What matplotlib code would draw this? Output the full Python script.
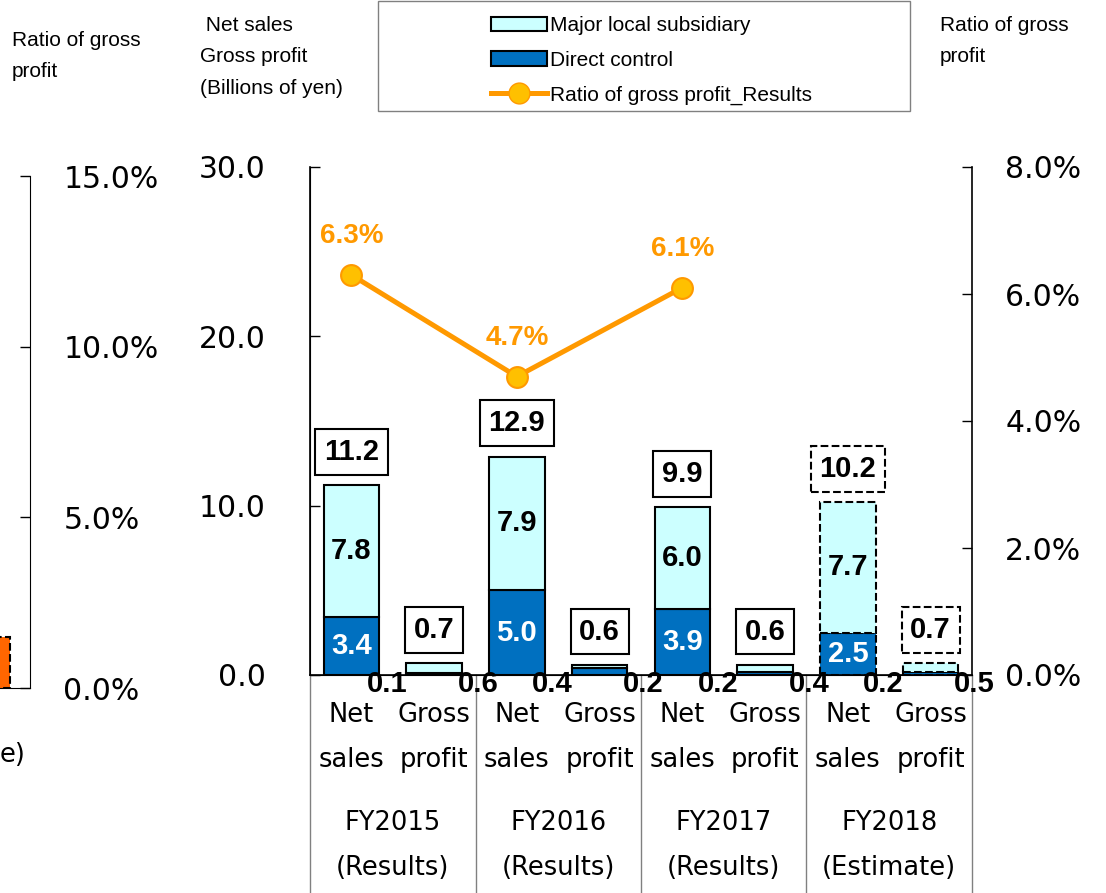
import matplotlib

matplotlib.use("Agg")
import matplotlib.pyplot as plt
import numpy as np
from matplotlib.lines import Line2D
from matplotlib.patches import Patch, Rectangle
from matplotlib.ticker import FormatStrFormatter

# data
years = ["FY2015", "FY2016", "FY2017", "FY2018"]
kinds = ["(Results)", "(Results)", "(Results)", "(Estimate)"]
estimate = [False, False, False, True]
sales_direct = [3.4, 5.0, 3.9, 2.5]
sales_local = [7.8, 7.9, 6.0, 7.7]
sales_total = [11.2, 12.9, 9.9, 10.2]
profit_direct = [0.1, 0.4, 0.2, 0.2]
profit_local = [0.6, 0.2, 0.4, 0.5]
profit_total = [0.7, 0.6, 0.6, 0.7]
ratio = [6.3, 4.7, 6.1]
prev_ratio = [1.5]  # neighbouring chart, cut off at the left edge

CYAN = "#CCFFFF"
BLUE = "#0070C0"
ORANGE = "#FF9900"
MARKER = "#FFC000"
PREV = "#FF6600"
NARROW = ["Liberation Sans Narrow", "Liberation Sans", "DejaVu Sans"]
plt.rcParams["font.family"] = ["DejaVu Sans"]

W, H = 1106, 893
fig = plt.figure(figsize=(W / 100, H / 100), dpi=100)


def fx(x):
    return x / W


def fy(y):
    return 1 - y / H


# main axes
ax = fig.add_axes([fx(310), fy(675), fx(972) - fx(310), fy(167) - fy(675)])
ax.set_xlim(-0.5, 7.5)
ax.set_ylim(0, 30)
ax.set_yticks([0, 10, 20, 30])
ax.yaxis.set_major_formatter(FormatStrFormatter("%.1f"))
ax.tick_params(axis="y", direction="in", length=7, width=1, labelsize=21.5, pad=32)
ax.set_xticks([])
ax.spines["top"].set_visible(False)
ax.spines["right"].set_visible(False)
for sp in ("left", "bottom"):
    ax.spines[sp].set_linewidth(1.2)

xn = np.arange(4) * 2
xg = xn + 1
bw = 0.67
num = dict(family=NARROW, fontweight="bold", fontsize=21, ha="center", va="center")

for i in range(4):
    ls = "--" if estimate[i] else "-"
    edge = dict(edgecolor="black", linewidth=1.5, linestyle=ls)
    ax.bar(xn[i], sales_direct[i], bw, color=BLUE, **edge)
    ax.bar(xn[i], sales_local[i], bw, bottom=sales_direct[i], color=CYAN, **edge)
    ax.bar(xg[i], profit_direct[i], bw, color=BLUE, **edge)
    ax.bar(xg[i], profit_local[i], bw, bottom=profit_direct[i], color=CYAN, **edge)

    ax.text(xn[i], sales_direct[i] / 2, f"{sales_direct[i]:.1f}", color="white", **num)
    ax.text(xn[i], sales_direct[i] + sales_local[i] / 2, f"{sales_local[i]:.1f}",
            color="black", **num)

    box = dict(boxstyle="square,pad=0.3", fc="white", ec="black", lw=1.5, ls=ls)
    ax.annotate(f"{sales_total[i]:.1f}", (xn[i], sales_total[i]), xytext=(0, 24),
                textcoords="offset points", bbox=box, **num)
    ax.annotate(f"{profit_total[i]:.1f}", (xg[i], profit_total[i]), xytext=(0, 24),
                textcoords="offset points", bbox=box, **num)

    # small segment values sitting under the axis
    ax.text(xg[i] - 0.57, -0.55, f"{profit_direct[i]:.1f}", clip_on=False, **num)
    ax.text(xg[i] + 0.53, -0.55, f"{profit_local[i]:.1f}", clip_on=False, **num)

# category labels and dividers below the axis
tr = ax.get_xaxis_transform()


def ay(y):
    return (675 - y) / 508


for i in range(4):
    for x, (a, b) in ((xn[i], ("Net", "sales")), (xg[i], ("Gross", "profit"))):
        ax.text(x, ay(715), a, transform=tr, ha="center", va="center", fontsize=18.5)
        ax.text(x, ay(760), b, transform=tr, ha="center", va="center", fontsize=18.5)
    ax.text(xn[i] + 0.5, ay(823), years[i], transform=tr, ha="center", va="center",
            fontsize=18.5)
    ax.text(xn[i] + 0.5, ay(868), kinds[i], transform=tr, ha="center", va="center",
            fontsize=18.5)
for x in [-0.5, 1.5, 3.5, 5.5, 7.5]:
    ax.plot([x, x], [0, ay(893)], transform=tr, color="#808080", lw=1, clip_on=False)

# ratio on the right axis
ax2 = ax.twinx()
ax2.set_ylim(0, 8)
ax2.set_yticks([0, 2, 4, 6, 8])
ax2.yaxis.set_major_formatter(FormatStrFormatter("%.1f%%"))
ax2.tick_params(axis="y", direction="in", length=7, width=1, labelsize=21.5, pad=24)
ax2.spines["top"].set_visible(False)
ax2.spines["right"].set_linewidth(1.2)
ax2.plot(xn[:3], ratio, color=ORANGE, lw=3.6, marker="o", ms=15, mfc=MARKER,
         mec=ORANGE, mew=1.5, solid_capstyle="round")
for x, v in zip(xn[:3], ratio):
    ax2.annotate(f"{v:.1f}%", (x, v), xytext=(0, 28), textcoords="offset points",
                 color=ORANGE, family=NARROW, fontweight="bold", fontsize=20,
                 ha="center", va="center")

# neighbouring chart, cut off at the left edge
ax0 = fig.add_axes([-0.25, fy(688), fx(30) + 0.25, fy(176) - fy(688)])
ax0.set_xlim(0, 1)
ax0.set_ylim(0, 15)
ax0.set_xticks([])
ax0.yaxis.tick_right()
ax0.set_yticks([0, 5, 10, 15])
ax0.yaxis.set_major_formatter(FormatStrFormatter("%.1f%%"))
ax0.tick_params(axis="y", direction="in", length=7, width=1, labelsize=21.5, pad=24)
ax0.spines["top"].set_visible(False)
ax0.spines["left"].set_visible(False)
ax0.bar([0.87], prev_ratio, 0.13, color=PREV, edgecolor="black", lw=1.5, ls="--")

# header texts
head = dict(family=NARROW, fontsize=15, va="center", ha="left", linespacing=1.85)
fig.text(fx(12), fy(56), "Ratio of gross\nprofit", **head)
fig.text(fx(200), fy(57), " Net sales\nGross profit\n(Billions of yen)", **head)
fig.text(fx(940), fy(41), "Ratio of gross\nprofit", **head)
fig.text(0, fy(755), "e)", fontsize=18.5, va="center", ha="left")

# legend
fig.patches.append(Rectangle((fx(378), fy(111)), fx(910) - fx(378), fy(1) - fy(111),
                             transform=fig.transFigure, fill=False, ec="#808080", lw=1))
handles = [
    Patch(fc=CYAN, ec="black", lw=1.5),
    Patch(fc=BLUE, ec="black", lw=1.5),
    Line2D([], [], color=ORANGE, lw=3.6, marker="o", ms=15, mfc=MARKER, mec=ORANGE),
]
labels = ["Major local subsidiary", "Direct control", "Ratio of gross profit_Results"]
fig.legend(handles, labels, loc="upper left", bbox_to_anchor=(fx(481), fy(6)),
           frameon=False, prop=dict(family=NARROW, size=15), handlelength=2.65,
           handleheight=0.7, labelspacing=0.75, handletextpad=0.15, borderpad=0,
           numpoints=1)

fig.savefig("out.png", dpi=100)
